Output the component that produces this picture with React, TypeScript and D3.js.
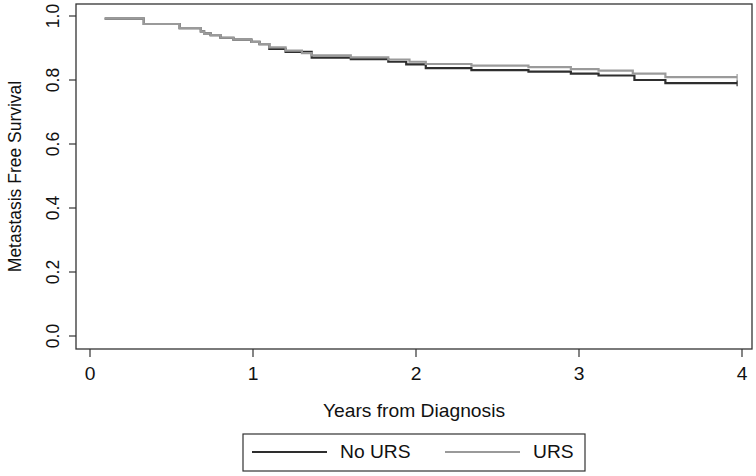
import React, { useEffect, useRef } from "react";
import * as d3 from "d3";

// step times (years) and survival for each arm
const sharedTimes = [0.09, 0.33, 0.55, 0.68, 0.7, 0.74, 0.8, 0.88, 0.99, 1.04];
const sharedSurv = [0.992, 0.975, 0.962, 0.952, 0.946, 0.94, 0.932, 0.926, 0.919, 0.912];

const noUrsTimes = [1.1, 1.2, 1.36, 1.6, 1.83, 1.94, 2.06, 2.34, 2.69, 2.95, 3.12, 3.34, 3.53, 3.97];
const noUrsSurv = [0.897, 0.888, 0.87, 0.865, 0.857, 0.849, 0.837, 0.831, 0.826, 0.82, 0.814, 0.8, 0.79, 0.79];

const ursTimes = [1.1, 1.2, 1.3, 1.36, 1.6, 1.83, 1.96, 2.06, 2.34, 2.69, 2.95, 3.12, 3.33, 3.53, 3.97];
const ursSurv = [0.902, 0.892, 0.884, 0.877, 0.871, 0.864, 0.857, 0.85, 0.845, 0.84, 0.834, 0.829, 0.82, 0.809, 0.809];

const xTicks = [0, 1, 2, 3, 4];
const yTicks = [0, 0.2, 0.4, 0.6, 0.8, 1.0];
const groups = ["No URS", "URS"];
const colors = ["#2e2e2e", "#9a9a9a"];

const W = 756;
const H = 476;
const SX = 1.1; // the source image is stretched horizontally

const App = () => {
  const ref = useRef(null);

  useEffect(() => {
    document.body.style.margin = "0";
    draw();
  });

  let draw = () => {
    const svg = d3.select(ref.current);
    svg.selectAll("*").remove();

    const box = { left: 76, top: 4, right: 752, bottom: 349 };
    const x = d3.scaleLinear().domain([0, 4]).range([90, 742]);
    const y = d3.scaleLinear().domain([0, 1]).range([336, 16]);
    const font = "'Liberation Sans', Arial, sans-serif";

    const txt = (g, tx, ty, s, anchor, rot = 0) =>
      g
        .append("text")
        .attr("transform", `translate(${tx},${ty}) scale(${SX},1) rotate(${rot})`)
        .attr("text-anchor", anchor)
        .style("font-family", font)
        .style("font-size", "17.5px")
        .attr("fill", "#111")
        .text(s);

    // curves
    const series = [
      { t: sharedTimes.concat(noUrsTimes), s: sharedSurv.concat(noUrsSurv) },
      { t: sharedTimes.concat(ursTimes), s: sharedSurv.concat(ursSurv) },
    ];
    const line = d3
      .line()
      .x((d) => x(d[0]))
      .y((d) => y(d[1]))
      .curve(d3.curveStepAfter);

    series.forEach((sr, k) => {
      const pts = sr.t.map((t, i) => [t, sr.s[i]]);
      svg
        .append("path")
        .attr("d", line(pts))
        .attr("fill", "none")
        .attr("stroke", colors[k])
        .attr("stroke-width", 2.2);
      const last = pts[pts.length - 1];
      svg
        .append("line")
        .attr("x1", x(last[0]))
        .attr("x2", x(last[0]))
        .attr("y1", y(last[1]) - 3)
        .attr("y2", y(last[1]) + 3)
        .attr("stroke", colors[k])
        .attr("stroke-width", 1.2);
    });

    // frame
    svg
      .append("rect")
      .attr("x", box.left)
      .attr("y", box.top)
      .attr("width", box.right - box.left)
      .attr("height", box.bottom - box.top)
      .attr("fill", "none")
      .attr("stroke", "#333")
      .attr("stroke-width", 1.3);

    // x axis
    xTicks.forEach((t) => {
      svg
        .append("line")
        .attr("x1", x(t))
        .attr("x2", x(t))
        .attr("y1", box.bottom)
        .attr("y2", box.bottom + 8)
        .attr("stroke", "#333")
        .attr("stroke-width", 1.2);
      txt(svg, x(t), 380, String(t), "middle");
    });

    // y axis
    yTicks.forEach((v) => {
      svg
        .append("line")
        .attr("x1", box.left - 7)
        .attr("x2", box.left)
        .attr("y1", y(v))
        .attr("y2", y(v))
        .attr("stroke", "#333")
        .attr("stroke-width", 1.2);
      txt(svg, 59, y(v), v.toFixed(1), "middle", -90);
    });

    txt(svg, (box.left + box.right) / 2, 417, "Years from Diagnosis", "middle");
    txt(svg, 21, (box.top + box.bottom) / 2, "Metastasis Free Survival", "middle", -90);

    // legend
    const lg = svg.append("g");
    lg.append("rect")
      .attr("x", 243)
      .attr("y", 434)
      .attr("width", 342)
      .attr("height", 37)
      .attr("fill", "none")
      .attr("stroke", "#333")
      .attr("stroke-width", 1.2);
    const lx = [252, 445];
    groups.forEach((g, k) => {
      lg.append("line")
        .attr("x1", lx[k])
        .attr("x2", lx[k] + 75)
        .attr("y1", 452)
        .attr("y2", 452)
        .attr("stroke", colors[k])
        .attr("stroke-width", 2);
      txt(lg, lx[k] + 88, 458, g, "start");
    });
  };

  return <svg ref={ref} width={W} height={H} style={{ display: "block", background: "#fff" }}></svg>;
};

export default App;
